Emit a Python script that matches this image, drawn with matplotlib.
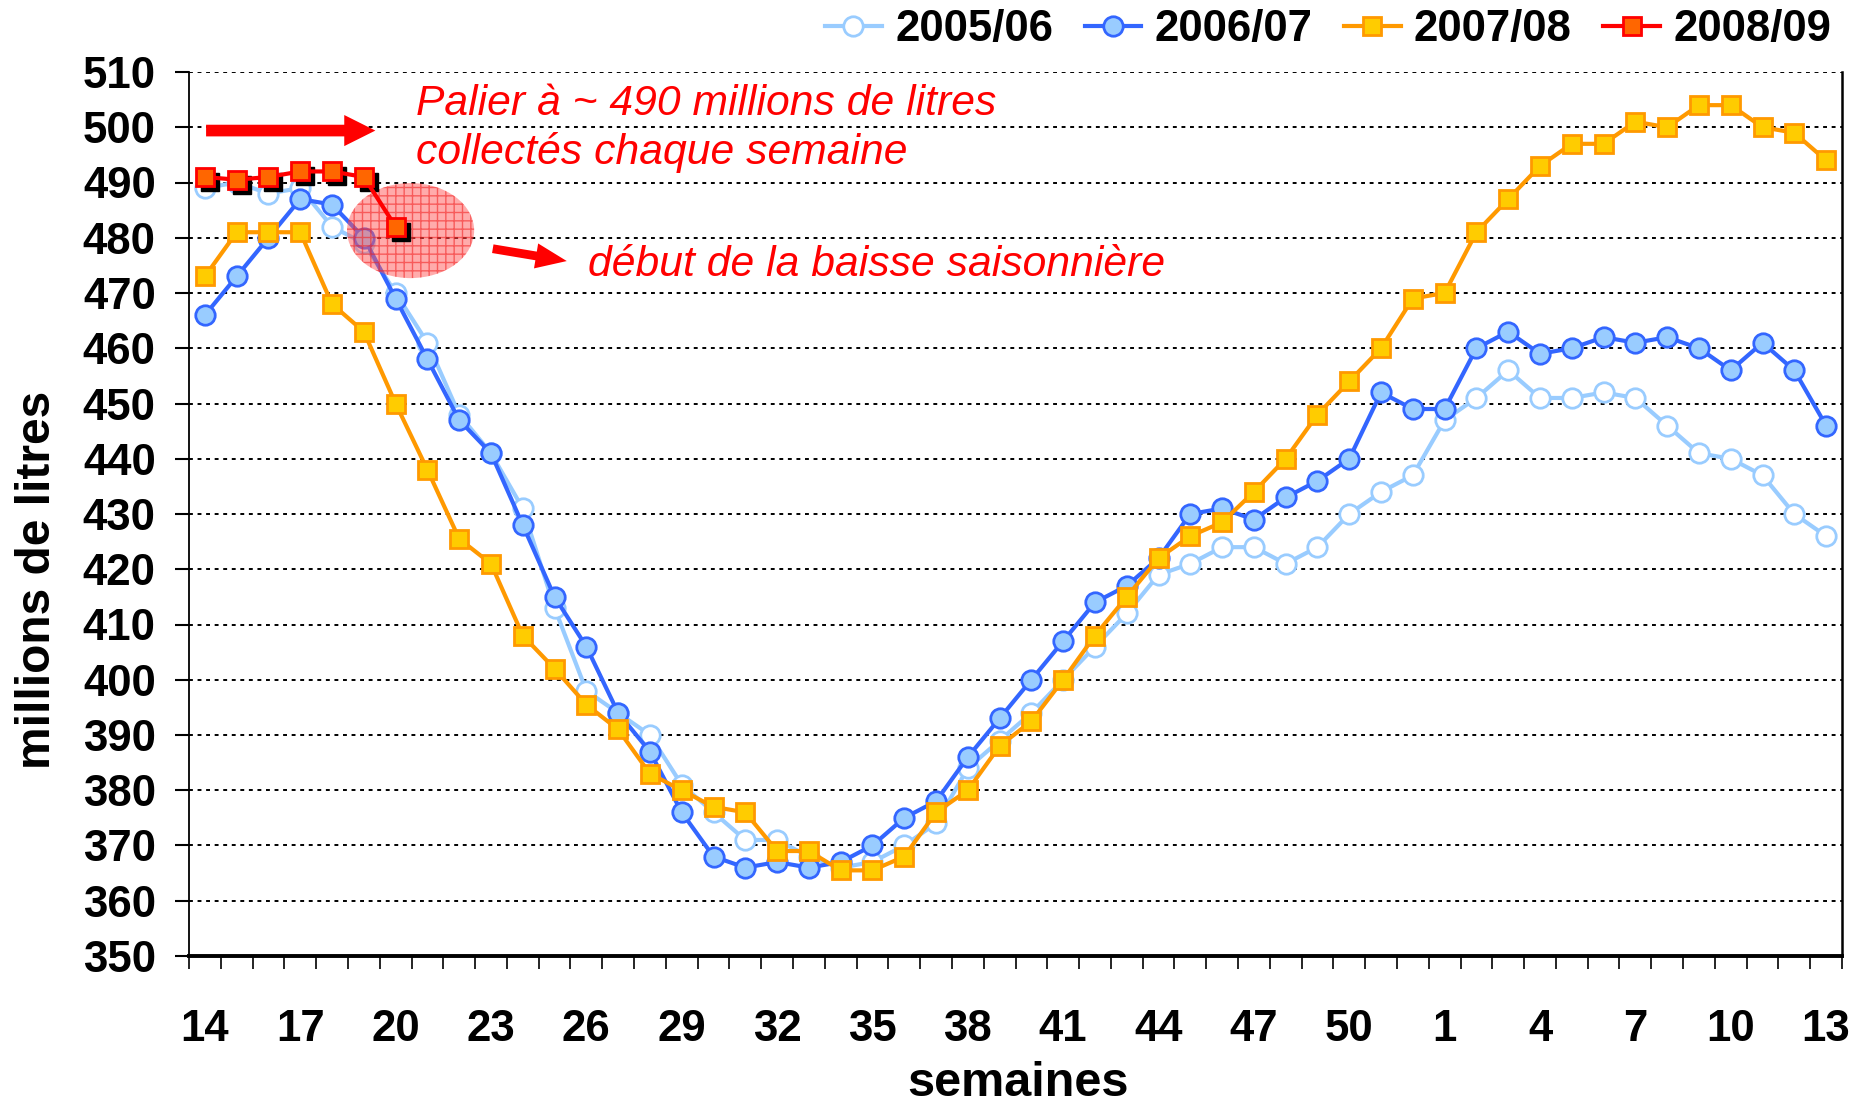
import numpy as np
import matplotlib
matplotlib.use("Agg")
import matplotlib.pyplot as plt
from matplotlib.patches import Ellipse, FancyArrowPatch
from matplotlib.transforms import ScaledTranslation

plt.rcParams['font.family'] = ['Liberation Sans', 'DejaVu Sans']

weeks = list(range(14, 53)) + list(range(1, 14))

s0506 = [489, 490, 488, 489, 482, 479, 470, 461, 448, 441, 431, 413, 398, 394, 390,
         381, 376, 371, 371, 368, 366, 367, 370, 374, 384, 389, 394, 400, 406, 412,
         419, 421, 424, 424, 421, 424, 430, 434, 437,
         447, 451, 456, 451, 451, 452, 451, 446, 441, 440, 437, 430, 426]
s0607 = [466, 473, 480, 487, 486, 480, 469, 458, 447, 441, 428, 415, 406, 394, 387,
         376, 368, 366, 367, 366, 367, 370, 375, 378, 386, 393, 400, 407, 414, 417,
         422, 430, 431, 429, 433, 436, 440, 452, 449,
         449, 460, 463, 459, 460, 462, 461, 462, 460, 456, 461, 456, 446]
s0708 = [473, 481, 481, 481, 468, 463, 450, 438, 425.5, 421, 408, 402, 395.5, 391, 383,
         380, 377, 376, 369, 369, 365.5, 365.5, 368, 376, 380, 388, 392.5, 400, 408, 415,
         422, 426, 428.5, 434, 440, 448, 454, 460, 469,
         470, 481, 487, 493, 497, 497, 501, 500, 504, 504, 500, 499, 494]
s0809 = [491, 490.5, 491, 492, 492, 491, 482]

labels = ['2005/06', '2006/07', '2007/08', '2008/09']
yticks = list(range(350, 511, 10))

fig = plt.figure(figsize=(18.56, 11.07), dpi=100)
W, H = 1856, 1107
ax = fig.add_axes([189 / W, 1 - 956 / H, (1842 - 189) / W, (956 - 72) / H])

x = np.arange(len(weeks))
x9 = np.arange(len(s0809))

LW = 3.0
l1, = ax.plot(x, s0506, color='#99CCFF', lw=LW, marker='o', ms=14,
              mfc='white', mec='#99CCFF', mew=2.0, zorder=3)
l2, = ax.plot(x, s0607, color='#3366FF', lw=LW, marker='o', ms=14,
              mfc='#99CCFF', mec='#3366FF', mew=2.0, zorder=4)
l3, = ax.plot(x, s0708, color='#FF9900', lw=LW, marker='s', ms=13.5,
              mfc='#FFCC00', mec='#FF9900', mew=2.0, zorder=5)

ell = Ellipse((6.47, 481.3), 4.0, 17.2, facecolor=(1, 0.35, 0.35, 0.5),
              edgecolor=(0.95, 0.1, 0.1, 0.55), lw=0, hatch='++', zorder=6)
ax.add_patch(ell)

# shadow for 2008/09 squares
shadow_tr = ax.transData + ScaledTranslation(5 / 100, -5 / 100, fig.dpi_scale_trans)
ax.plot(x9, s0809, ls='none', marker='s', ms=13.5, mfc='black', mec='black',
        transform=shadow_tr, zorder=7)
l4, = ax.plot(x9, s0809, color='#FF0000', lw=LW, marker='s', ms=13.5,
              mfc='#FF6600', mec='#FF0000', mew=2.0, zorder=8)

ax.set_xlim(-0.5, len(weeks) - 0.5)
ax.set_ylim(350, 510)
ax.set_yticks(yticks)
ax.set_xticks(x[::3])
ax.set_xticklabels([str(w) for w in weeks[::3]])
ax.set_xticks(np.arange(-0.5, len(weeks), 1), minor=True)

for lab in ax.get_xticklabels() + ax.get_yticklabels():
    lab.set_fontsize(31.5)
    lab.set_fontweight('bold')

ax.tick_params(axis='x', which='major', length=0, pad=38)
ax.tick_params(axis='x', which='minor', length=9, width=1.2, direction='out')
ax.tick_params(axis='y', which='major', length=10, width=1.5, direction='out', pad=14)

ax.yaxis.grid(True, linestyle=(0, (2, 2.4)), color='black', lw=1.4, zorder=1)
ax.set_axisbelow(True)

ax.spines['top'].set_visible(False)
ax.spines['left'].set_linewidth(1.3)
ax.spines['right'].set_linewidth(1.8)
ax.spines['bottom'].set_linewidth(2.8)

fig.text(0.020, 0.476, 'millions de litres', rotation=90, ha='center', va='center',
         fontsize=34.5, fontweight='bold')
fig.text(0.5486, 1 - 1084 / H, 'semaines', ha='center', va='center',
         fontsize=35, fontweight='bold')

# annotations
red = '#FF0000'
ax.text(6.65, 504.2, 'Palier à ~ 490 millions de litres', color=red, fontsize=30.7,
        fontstyle='italic', ha='left', va='center', zorder=9)
ax.text(6.65, 495.5, 'collectés chaque semaine', color=red, fontsize=30.7,
        fontstyle='italic', ha='left', va='center', zorder=9)
ax.text(12.04, 475.1, 'début de la baisse saisonnière', color=red, fontsize=30.7,
        fontstyle='italic', ha='left', va='center', zorder=9)

a1 = FancyArrowPatch((-0.05, 499.4), (5.45, 499.4),
                     arrowstyle='simple,head_width=1.6,head_length=1.6,tail_width=0.6',
                     mutation_scale=14, color=red, lw=0, zorder=9)
a2 = FancyArrowPatch((8.97, 478.1), (11.47, 475.7),
                     arrowstyle='simple,head_width=1.3,head_length=1.6,tail_width=0.45',
                     mutation_scale=14, color=red, lw=0, zorder=9)
ax.add_patch(a1)
ax.add_patch(a2)

fig.legend([l1, l2, l3, l4], labels, ncol=4, loc='center right',
           bbox_to_anchor=(0.9866, 0.973), frameon=False, handlelength=1.3,
           handletextpad=0.3, columnspacing=0.72, borderpad=0, borderaxespad=0,
           prop={'size': 31.5, 'weight': 'bold'})

fig.savefig('out.png', dpi=100)
